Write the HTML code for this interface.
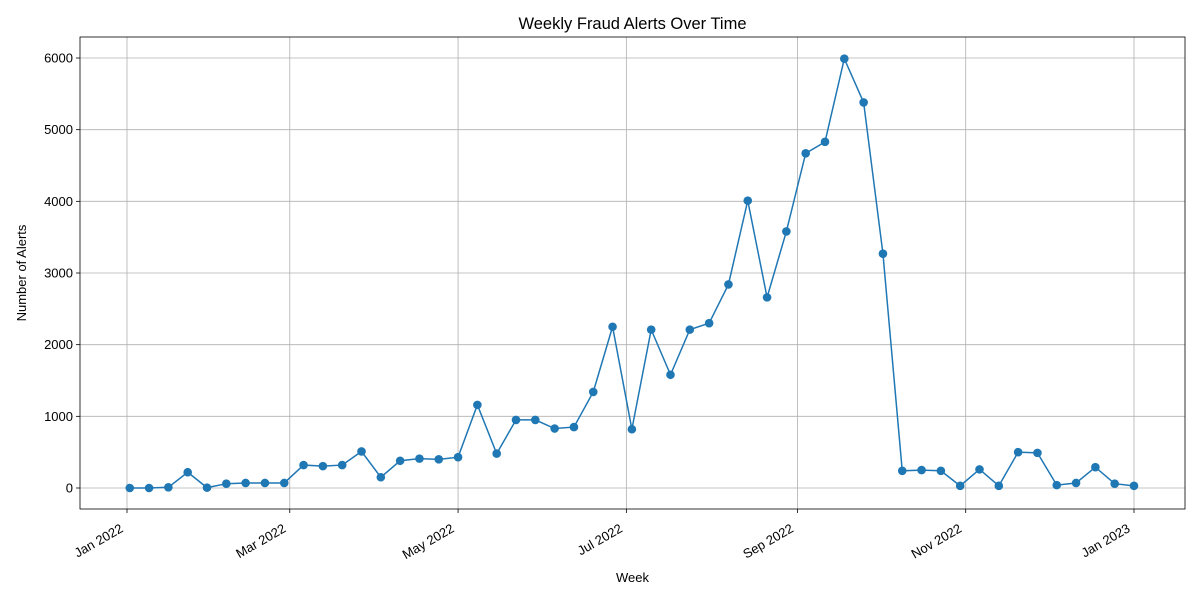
<!DOCTYPE html>
<html><head><meta charset="utf-8"><style>
html,body{margin:0;padding:0;background:#fff;}
svg{display:block;font-family:"Liberation Sans","DejaVu Sans",sans-serif;}
</style></head><body>
<svg id="chart" width="1200" height="600" viewBox="0 0 1200 600"></svg>
<script>
const startDate = "2022-01-02";
const weeklyAlerts = [0,0,10,220,5,60,70,70,70,320,305,320,510,150,380,410,400,430,1160,480,950,950,830,850,1340,2250,820,2210,1580,2210,2300,2840,4010,2660,3580,4670,4830,5990,5380,3270,240,250,240,30,260,30,500,490,40,70,290,60,30];
const yTicks = [0,1000,2000,3000,4000,5000,6000];
const xTickDates = ["2022-01-01","2022-03-01","2022-05-01","2022-07-01","2022-09-01","2022-11-01","2023-01-01"];
const xTickLabels = ["Jan 2022","Mar 2022","May 2022","Jul 2022","Sep 2022","Nov 2022","Jan 2023"];

const NS="http://www.w3.org/2000/svg";
const svg=document.getElementById('chart');
const L=80,R=1185,T=37,B=509;
const day=86400000;
const t0=Date.parse("2022-01-01"), t1=Date.parse("2023-01-01");
function xScale(t){return 127+(t-t0)/(t1-t0)*(1134-127);}
function yScale(v){return 488+(58-488)*v/6000;}
function mk(tag,attrs,parent){const e=document.createElementNS(NS,tag);for(const k in attrs)e.setAttribute(k,attrs[k]);(parent||svg).appendChild(e);return e;}

const grid=mk('g',{});


yTicks.forEach(v=>{
  const y=yScale(v);
  mk('line',{x1:L,x2:R,y1:y,y2:y,stroke:'#b0b0b0','stroke-width':0.8},grid);
  mk('line',{x1:L-4,x2:L,y1:y,y2:y,stroke:'#000','stroke-width':0.8});
  const t=mk('text',{x:L-7,y:y+4.5,'text-anchor':'end','font-size':13});
  t.textContent=v;
  
  
});
xTickDates.forEach((d,i)=>{
  const x=xScale(Date.parse(d));
  mk('line',{x1:x,x2:x,y1:T,y2:B,stroke:'#b0b0b0','stroke-width':0.8},grid);
  mk('line',{x1:x,x2:x,y1:B,y2:B+4,stroke:'#000','stroke-width':0.8});
  const ax=x-3, ay=B+22;
  const t=mk('text',{x:ax,y:ay,'text-anchor':'end','font-size':13,transform:`rotate(-30 ${ax} ${ay})`});
  t.textContent=xTickLabels[i];
  
  
});

const frame=mk('rect',{x:L,y:T,width:R-L,height:B-T,fill:'none',stroke:'#000','stroke-width':0.8});



const s0=Date.parse(startDate);
const pts=weeklyAlerts.map((v,i)=>[xScale(s0+i*7*day),yScale(v)]);
const line=mk('polyline',{points:pts.map(p=>p.join(',')).join(' '),fill:'none',stroke:'#1f77b4','stroke-width':1.5});


pts.forEach(p=>{
  const c=mk('circle',{cx:p[0],cy:p[1],r:4.3,fill:'#1f77b4'});
  
  
});

const title=mk('text',{x:(L+R)/2,y:29,'text-anchor':'middle','font-size':16.5});
title.textContent='Weekly Fraud Alerts Over Time';


const xt=mk('text',{x:(L+R)/2,y:582,'text-anchor':'middle','font-size':13});
xt.textContent='Week';


const yt=mk('text',{x:26,y:(T+B)/2,'text-anchor':'middle','font-size':13,transform:`rotate(-90 26 ${(T+B)/2})`});
yt.textContent='Number of Alerts';


</script>
</body></html>
